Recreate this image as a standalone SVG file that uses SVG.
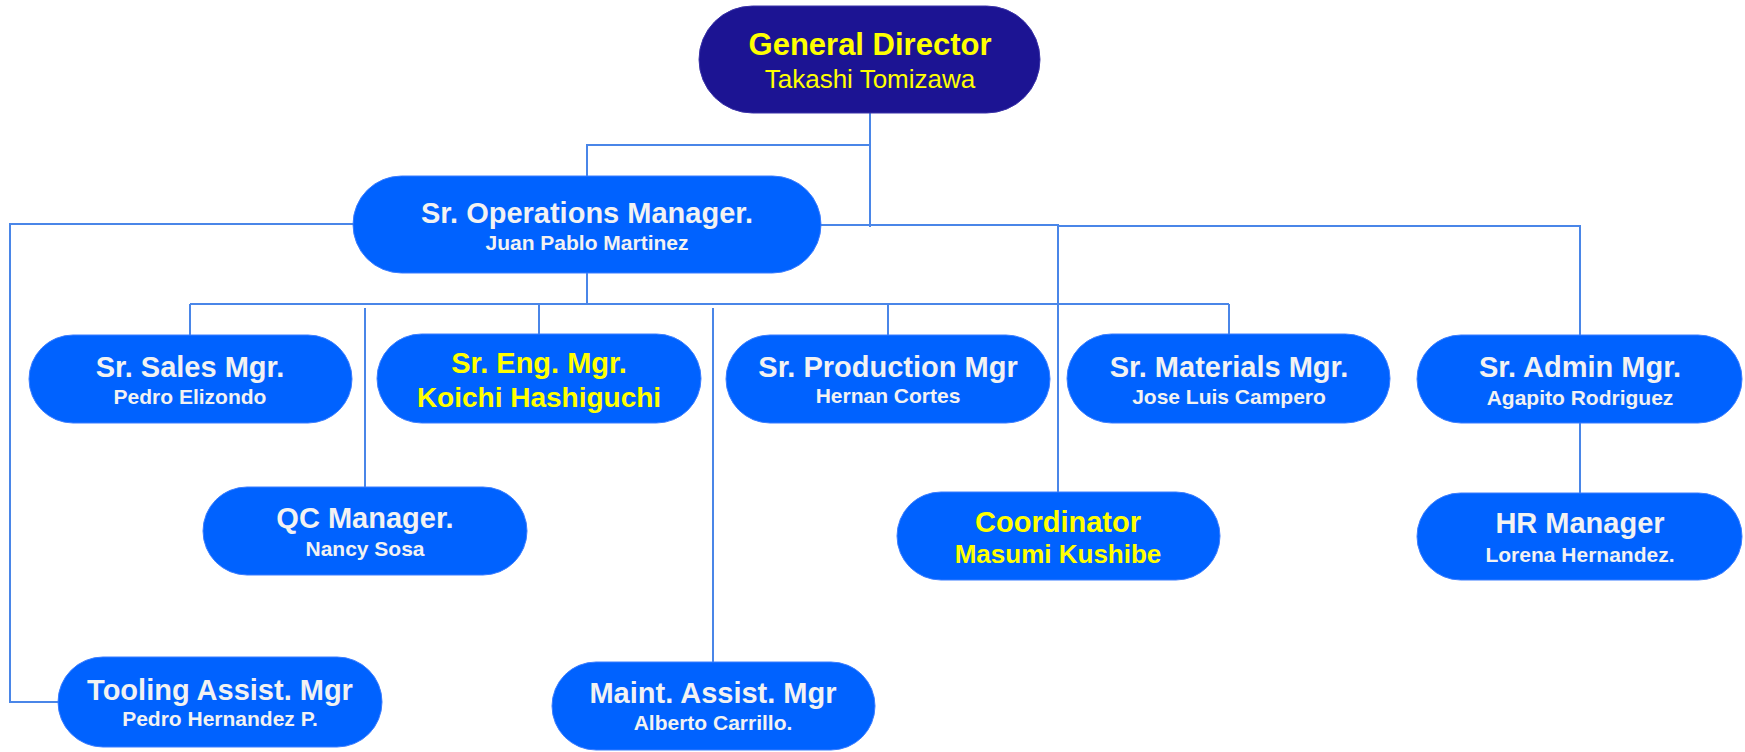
<svg xmlns="http://www.w3.org/2000/svg" width="1745" height="752" viewBox="0 0 1745 752">
<style>
.box{fill:#0062ff;stroke:#3b7dff;stroke-width:1}
.top{fill:#1c1493;stroke:#3a32a8;stroke-width:1}
.t{font-family:"Liberation Sans",Arial,sans-serif;font-weight:bold;text-anchor:middle;fill:#f2f2f2}
.y{fill:#ffff00}
.h{font-size:29px}
.n{font-size:21px}
.c{fill:none;stroke:#4a86e8;stroke-width:2}
</style>
<rect width="1745" height="752" fill="#ffffff"/>
<g id="connectors">
<path class="c" d="M870 113 V227"/>
<path class="c" d="M870 145 H587 V176"/>
<path class="c" d="M353 224 H10 V702 H58"/>
<path class="c" d="M821 225 H1058 V492"/>
<path class="c" d="M1058 226 H1580 V335"/>
<path class="c" d="M587 273 V304"/>
<path class="c" d="M190 304 H1229"/>
<path class="c" d="M190 304 V335"/>
<path class="c" d="M539 304 V334"/>
<path class="c" d="M888 304 V335"/>
<path class="c" d="M1229 304 V334"/>
<path class="c" d="M365 308 V487"/>
<path class="c" d="M713 308 V662"/>
<path class="c" d="M1580 423 V493"/>
</g>
<g id="general-director">
<rect class="top" x="699" y="6" width="341" height="107" rx="53.5"/>
<text class="t y" x="870" y="55" font-size="31">General Director</text>
<text class="t y" x="870" y="88" font-size="26" font-weight="normal" style="font-weight:normal">Takashi Tomizawa</text>
</g>
<g id="ops-manager">
<rect class="box" x="353" y="176" width="468" height="97" rx="48.5"/>
<text class="t h" x="587" y="223">Sr. Operations Manager.</text>
<text class="t n" x="587" y="250">Juan Pablo Martinez</text>
</g>
<g id="sales-mgr">
<rect class="box" x="29" y="335" width="323" height="88" rx="44"/>
<text class="t h" x="190" y="377">Sr. Sales Mgr.</text>
<text class="t n" x="190" y="404">Pedro Elizondo</text>
</g>
<g id="eng-mgr">
<rect class="box" x="377" y="334" width="324" height="89" rx="44.5"/>
<text class="t y" x="539" y="373" font-size="29">Sr. Eng. Mgr.</text>
<text class="t y" x="539" y="407" font-size="28">Koichi Hashiguchi</text>
</g>
<g id="production-mgr">
<rect class="box" x="726" y="335" width="324" height="88" rx="44"/>
<text class="t h" x="888" y="377">Sr. Production Mgr</text>
<text class="t n" x="888" y="403">Hernan Cortes</text>
</g>
<g id="materials-mgr">
<rect class="box" x="1067" y="334" width="323" height="89" rx="44.5"/>
<text class="t h" x="1229" y="377">Sr. Materials Mgr.</text>
<text class="t n" x="1229" y="404">Jose Luis Campero</text>
</g>
<g id="admin-mgr">
<rect class="box" x="1417" y="335" width="325" height="88" rx="44"/>
<text class="t h" x="1580" y="377">Sr. Admin Mgr.</text>
<text class="t n" x="1580" y="405">Agapito Rodriguez</text>
</g>
<g id="qc-manager">
<rect class="box" x="203" y="487" width="324" height="88" rx="44"/>
<text class="t h" x="365" y="528">QC Manager.</text>
<text class="t n" x="365" y="556">Nancy Sosa</text>
</g>
<g id="coordinator">
<rect class="box" x="897" y="492" width="323" height="88" rx="44"/>
<text class="t y" x="1058" y="532" font-size="29">Coordinator</text>
<text class="t y" x="1058" y="563" font-size="26">Masumi Kushibe</text>
</g>
<g id="hr-manager">
<rect class="box" x="1417" y="493" width="325" height="87" rx="43.5"/>
<text class="t h" x="1580" y="533">HR Manager</text>
<text class="t n" x="1580" y="562">Lorena Hernandez.</text>
</g>
<g id="tooling-assist">
<rect class="box" x="58" y="657" width="324" height="90" rx="45"/>
<text class="t h" x="220" y="700">Tooling Assist. Mgr</text>
<text class="t n" x="220" y="726">Pedro Hernandez P.</text>
</g>
<g id="maint-assist">
<rect class="box" x="552" y="662" width="323" height="88" rx="44"/>
<text class="t h" x="713" y="703">Maint. Assist. Mgr</text>
<text class="t n" x="713" y="730">Alberto Carrillo.</text>
</g>
</svg>
